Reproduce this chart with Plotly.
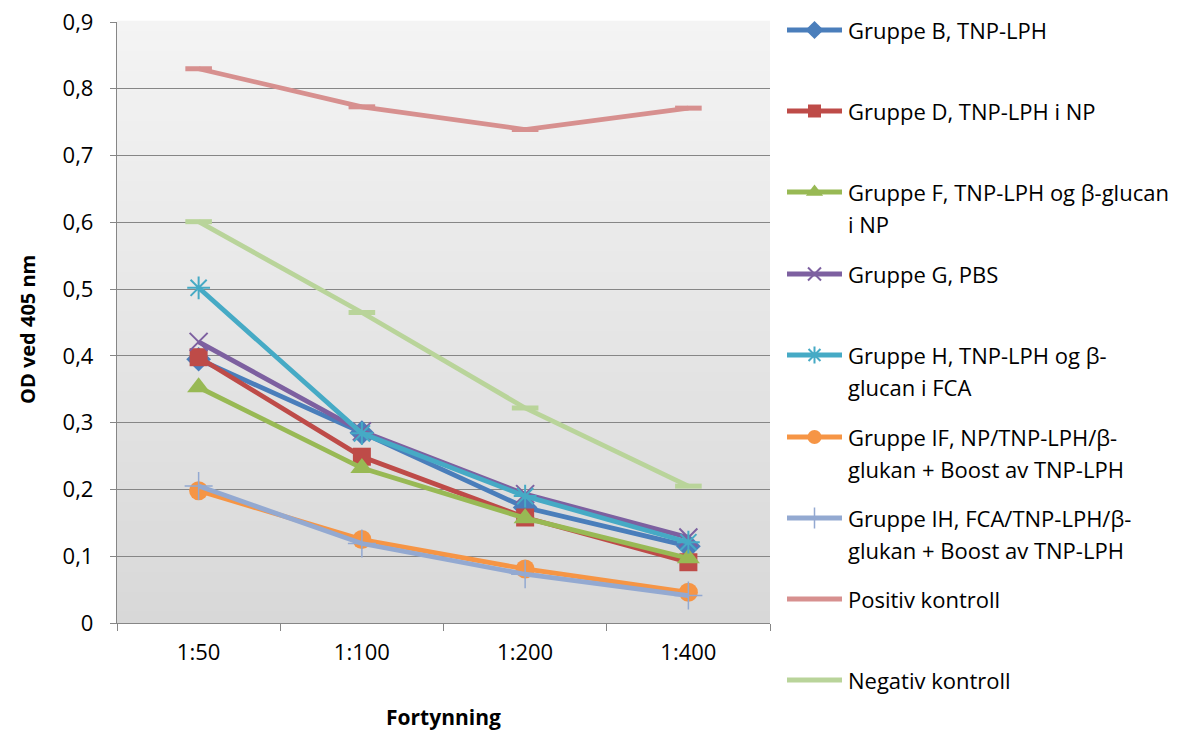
import plotly.graph_objects as go

# ---- data -------------------------------------------------------------
dilutions = ["1:50", "1:100", "1:200", "1:400"]

gruppe_b = [0.395, 0.285, 0.173, 0.115]
gruppe_d = [0.398, 0.249, 0.158, 0.091]
gruppe_f = [0.353, 0.232, 0.157, 0.097]
gruppe_g = [0.421, 0.287, 0.193, 0.128]
gruppe_h = [0.502, 0.284, 0.190, 0.121]
gruppe_if = [0.198, 0.125, 0.081, 0.046]
gruppe_ih = [0.205, 0.119, 0.073, 0.041]
positiv = [0.830, 0.773, 0.739, 0.771]
negativ = [0.601, 0.465, 0.322, 0.205]

y_tickvals = [0, 0.1, 0.2, 0.3, 0.4, 0.5, 0.6, 0.7, 0.8, 0.9]
y_ticktext = ["0", "0,1", "0,2", "0,3", "0,4", "0,5", "0,6", "0,7", "0,8", "0,9"]

names = [
    ["Gruppe B, TNP-LPH"],
    ["Gruppe D, TNP-LPH i NP"],
    ["Gruppe F, TNP-LPH og β-glucan", "i NP"],
    ["Gruppe G, PBS"],
    ["Gruppe H, TNP-LPH og β-", "glucan i FCA"],
    ["Gruppe IF, NP/TNP-LPH/β-", "glukan + Boost av TNP-LPH"],
    ["Gruppe IH, FCA/TNP-LPH/β-", "glukan + Boost av TNP-LPH"],
    ["Positiv kontroll"],
    ["Negativ kontroll"],
]
values = [gruppe_b, gruppe_d, gruppe_f, gruppe_g, gruppe_h,
          gruppe_if, gruppe_ih, positiv, negativ]

# ---- styling ----------------------------------------------------------
W, H = 1194, 731
FONT = "Open Sans"
colors = ["#4A7EBB", "#BE4B48", "#98B954", "#7D60A0", "#46AAC5",
          "#F69545", "#93A9D1", "#D7908F", "#B9D49A"]
# symbol, size, outline width (for line-only symbols), legend size
markers = [
    ("diamond", 19, 0, 14),
    ("square", 18, 0, 13),
    ("triangle-up", 20, 0, 15),
    ("x-thin", 18, 2, 13),
    ("asterisk", 19, 2, 14),
    ("circle", 19, 0, 14),
    ("cross-thin", 20, 1.5, 15),
    ("line-ew", 19, 5, 0),
    ("line-ew", 19, 5, 0),
]
LINE_ONLY = ("x-thin", "asterisk", "cross-thin", "line-ew")

# plot area in pixels
PL, PR, PT, PB = 117, 770, 22, 623

fig = go.Figure()

for vals, col, (sym, size, lw, _), nm in zip(values, colors, markers, names):
    fig.add_trace(go.Scatter(
        x=dilutions, y=vals, mode="lines+markers",
        name=" ".join(nm),
        line=dict(color=col, width=4.8),
        marker=dict(symbol=sym, size=size, color=col,
                    line=dict(color=col, width=lw if sym in LINE_ONLY else 0)),
        showlegend=False, xaxis="x", yaxis="y",
    ))

# legend drawn on an overlay axis that uses pixel coordinates
leg_y = [30, 111, 192, 274, 355, 437, 518, 599, 680]
annotations = []
for i, (nm, col, (sym, size, lw, lsize)) in enumerate(zip(names, colors, markers)):
    yc = leg_y[i]
    fig.add_trace(go.Scatter(
        x=[787, 842], y=[yc, yc], mode="lines",
        line=dict(color=col, width=4.8),
        showlegend=False, xaxis="x2", yaxis="y2", hoverinfo="skip",
    ))
    if lsize > 0:
        fig.add_trace(go.Scatter(
            x=[814.5], y=[yc], mode="markers",
            marker=dict(symbol=sym, size=lsize, color=col,
                        line=dict(color=col, width=lw if sym in LINE_ONLY else 0)),
            showlegend=False, xaxis="x2", yaxis="y2", hoverinfo="skip",
        ))
    for j, txt in enumerate(nm):
        annotations.append(dict(
            text=txt, x=846 / W, y=1 - (yc + 32 * j) / H,
            xref="paper", yref="paper", xanchor="left", yanchor="middle",
            showarrow=False, font=dict(family=FONT, size=22, color="#000000"),
        ))

# axis titles
annotations.append(dict(
    text="<b>Fortynning</b>", x=(PL + PR) / 2 / W, y=1 - 717 / H,
    xref="paper", yref="paper", xanchor="center", yanchor="middle",
    showarrow=False, font=dict(family=FONT, size=21, color="#000000"),
))
annotations.append(dict(
    text="<b>OD ved 405 nm</b>", x=27 / W, y=1 - 330 / H, textangle=-90,
    xref="paper", yref="paper", xanchor="center", yanchor="middle",
    showarrow=False, font=dict(family=FONT, size=20, color="#000000"),
))

# vertical gradient behind the plot area
shapes = []
n_strips = 60
top_c, bot_c = 0xF4, 0xD8
for k in range(n_strips):
    t = (k + 0.5) / n_strips
    g = round(top_c + (bot_c - top_c) * t)
    shapes.append(dict(
        type="rect", xref="x domain", yref="y domain",
        x0=0, x1=1, y0=1 - (k + 1) / n_strips, y1=1 - k / n_strips + 0.002,
        fillcolor=f"rgb({g},{g},{g})", line=dict(width=0), layer="below",
    ))

fig.update_layout(
    width=W, height=H,
    margin=dict(l=0, r=0, t=0, b=0, autoexpand=False),
    paper_bgcolor="#FFFFFF",
    plot_bgcolor="rgba(0,0,0,0)",
    font=dict(family=FONT, size=20, color="#000000"),
    showlegend=False,
    annotations=annotations,
    shapes=shapes,
    xaxis=dict(
        domain=[PL / W, PR / W], anchor="y", automargin=False,
        type="category", range=[-0.5, 3.5],
        tickson="boundaries", ticks="outside", ticklen=7,
        tickcolor="#868686", tickwidth=1,
        showline=True, linecolor="#868686", linewidth=1.3,
        showgrid=False, zeroline=False,
        tickfont=dict(family=FONT, size=22, color="#000000"),
        ticklabelstandoff=9,
    ),
    yaxis=dict(
        domain=[1 - PB / H, 1 - PT / H], anchor="x", automargin=False,
        range=[0, 0.9], tickvals=y_tickvals, ticktext=y_ticktext,
        ticks="outside", ticklen=6, tickcolor="#868686", tickwidth=1,
        showline=True, linecolor="#868686", linewidth=1.3,
        showgrid=True, gridcolor="#868686", gridwidth=1.4,
        zeroline=False,
        tickfont=dict(family=FONT, size=22, color="#000000"),
        ticklabelstandoff=12,
    ),
    xaxis2=dict(domain=[0, 1], range=[0, W], anchor="y2", automargin=False,
                visible=False, fixedrange=True),
    yaxis2=dict(domain=[0, 1], range=[H, 0], anchor="x2", automargin=False,
                visible=False, fixedrange=True),
)

fig.write_html("out.html")
